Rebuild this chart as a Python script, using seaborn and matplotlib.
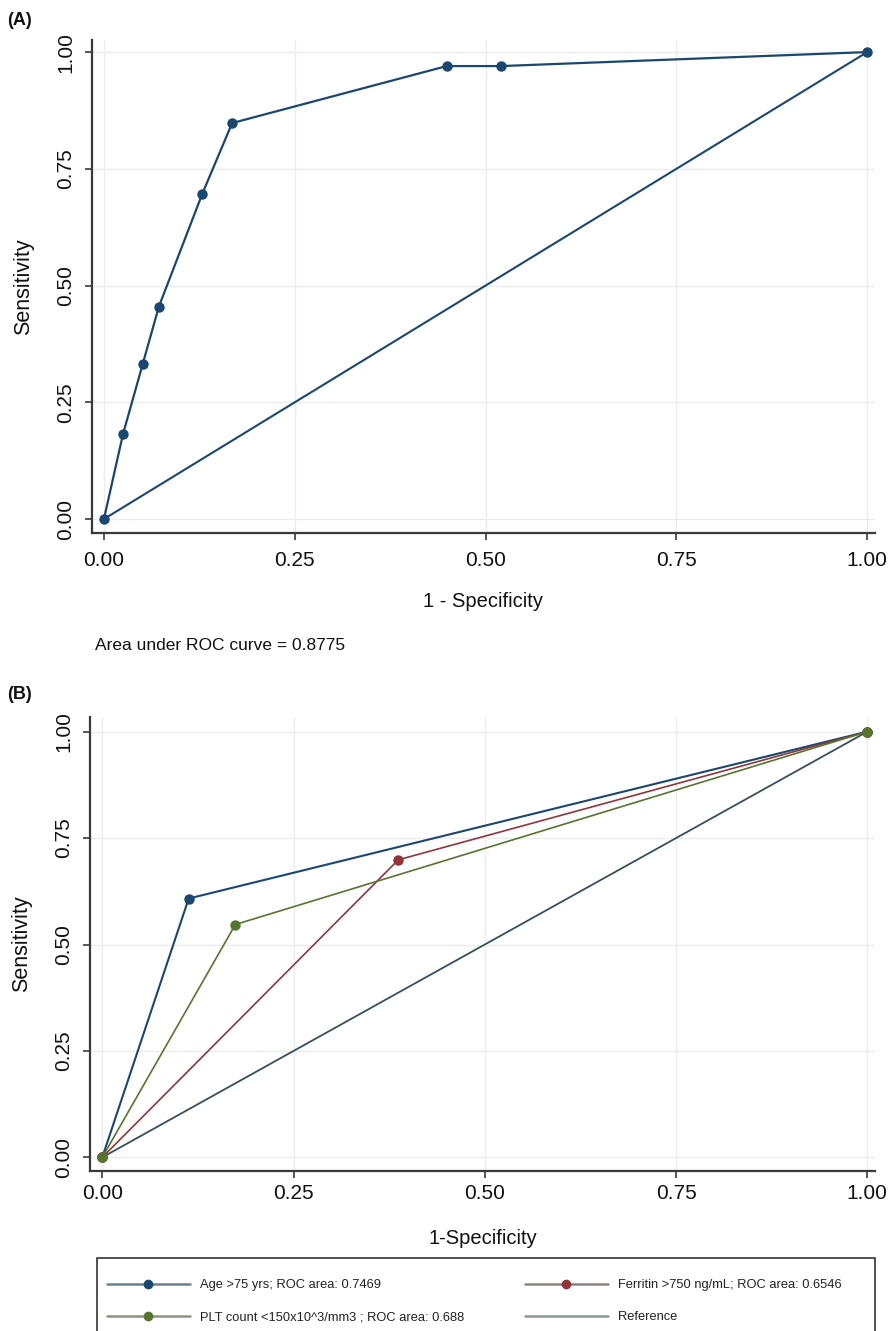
import numpy as np
import pandas as pd
import matplotlib
matplotlib.use("Agg")
import matplotlib.pyplot as plt
import seaborn as sns
from matplotlib.lines import Line2D
from matplotlib.patches import Rectangle

# ---------------- data ----------------
a_fpr = [0.0, 0.025, 0.051, 0.072, 0.129, 0.168, 0.449, 0.520, 1.0]
a_sens = [0.0, 0.182, 0.333, 0.455, 0.697, 0.848, 0.970, 0.970, 1.0]
a_auc_text = "Area under ROC curve = 0.8775"

b_labels = ["Age >75 yrs; ROC area: 0.7469",
            "Ferritin >750 ng/mL; ROC area: 0.6546",
            "PLT count <150x10^3/mm3 ; ROC area: 0.688",
            "Reference"]
b_fpr_age = [0.0, 0.113, 1.0]
b_sens_age = [0.0, 0.608, 1.0]
b_fpr_fer = [0.0, 0.387, 1.0]
b_sens_fer = [0.0, 0.699, 1.0]
b_fpr_plt = [0.0, 0.174, 1.0]
b_sens_plt = [0.0, 0.547, 1.0]
ref_x = [0.0, 1.0]
ref_y = [0.0, 1.0]

ticks = [0.0, 0.25, 0.50, 0.75, 1.0]
tick_labels = ["0.00", "0.25", "0.50", "0.75", "1.00"]

# ---------------- style ----------------
sns.set_theme(style="white")
plt.rcParams["font.family"] = ["Liberation Sans", "DejaVu Sans"]

NAVY = "#1a476f"
MAROON = "#90353b"
GREEN = "#55752f"
REFC = "#34505f"
TXT = "#111111"

fig = plt.figure(figsize=(8.93, 13.31), dpi=100)
axA = fig.add_axes([0.1027, 0.5995, 0.877, 0.3705])
axB = fig.add_axes([0.1008, 0.1202, 0.879, 0.3413])


def style_axes(ax, xlabel, xpad, ypad, xlabelpad, ylabelpad):
    ax.set_xlim(-0.016, 1.01)
    ax.set_xticks(ticks)
    ax.set_xticklabels(tick_labels, fontsize=15)
    ax.set_yticks(ticks)
    ax.set_yticklabels(tick_labels, fontsize=15, rotation=90, va="center")
    ax.grid(True, color="#ececec", linewidth=1.0)
    ax.set_axisbelow(True)
    for s in ["top", "right"]:
        ax.spines[s].set_visible(False)
    for s in ["left", "bottom"]:
        ax.spines[s].set_color("#3a3a3a")
        ax.spines[s].set_linewidth(1.6)
    ax.tick_params(axis="both", which="major", direction="out", length=5,
                   width=1.2, color="#3a3a3a", bottom=True, left=True,
                   labelcolor=TXT)
    ax.tick_params(axis="x", pad=xpad)
    ax.tick_params(axis="y", pad=ypad)
    ax.set_ylabel("Sensitivity", fontsize=15.5, labelpad=ylabelpad, color=TXT)
    ax.set_xlabel(xlabel, fontsize=14.5, labelpad=xlabelpad, color=TXT)


# ---------------- panel A ----------------
sns.lineplot(x=ref_x, y=ref_y, ax=axA, color=NAVY, linewidth=1.5, sort=False,
             estimator=None)
sns.lineplot(x=a_fpr, y=a_sens, ax=axA, color=NAVY, linewidth=1.6, sort=False,
             estimator=None, marker="o", markersize=7.5, markeredgewidth=0)
axA.set_ylim(-0.03, 1.026)
style_axes(axA, "1 - Specificity", xpad=8, ypad=7, xlabelpad=16, ylabelpad=16)
fig.text(0.106, 0.5154, a_auc_text, fontsize=12.5, color=TXT, ha="left",
         va="center")
fig.text(0.008, 0.9845, "(A)", fontsize=13, fontweight="bold", ha="left",
         va="center", color=TXT)

# ---------------- panel B ----------------
sns.lineplot(x=ref_x, y=ref_y, ax=axB, color=REFC, linewidth=1.3, sort=False,
             estimator=None)
sns.lineplot(x=b_fpr_age, y=b_sens_age, ax=axB, color=NAVY, linewidth=1.5,
             sort=False, estimator=None, marker="o", markersize=7.5,
             markeredgewidth=0)
sns.lineplot(x=b_fpr_fer, y=b_sens_fer, ax=axB, color=MAROON, linewidth=1.2,
             sort=False, estimator=None, marker="o", markersize=7.5,
             markeredgewidth=0)
sns.lineplot(x=b_fpr_plt, y=b_sens_plt, ax=axB, color=GREEN, linewidth=1.2,
             sort=False, estimator=None, marker="o", markersize=7.5,
             markeredgewidth=0)
axB.set_ylim(-0.032, 1.035)
style_axes(axB, "1-Specificity", xpad=4, ypad=7, xlabelpad=19, ylabelpad=16)
fig.text(0.008, 0.478, "(B)", fontsize=13, fontweight="bold", ha="left",
         va="center", color=TXT)

# legend box
fig.patches.append(Rectangle((0.1086, -0.01), 0.8712, 0.0648,
                             transform=fig.transFigure, fill=False,
                             edgecolor="#222222", linewidth=1.1))

def h(mcolor, lcolor):
    if mcolor is None:
        return Line2D([], [], color=lcolor, linewidth=1.8)
    return Line2D([], [], color=lcolor, linewidth=1.8, marker="o",
                  markersize=7, markerfacecolor=mcolor, markeredgewidth=0)

leg_kw = dict(loc="upper left", fontsize=9.3, frameon=False, handlelength=6.4,
              numpoints=1, borderaxespad=0.0, borderpad=0.0,
              labelspacing=1.55, handletextpad=0.8)
leg1 = fig.legend([h(NAVY, "#6e7f8c"), h(GREEN, "#8c9284")],
                  [b_labels[0], b_labels[2]],
                  bbox_to_anchor=(0.1198, 0.0390), **leg_kw)
leg2 = fig.legend([h(MAROON, "#8c8383"), h(None, "#8f9698")],
                  [b_labels[1], b_labels[3]],
                  bbox_to_anchor=(0.5879, 0.0390), **leg_kw)
for lg in (leg1, leg2):
    for t in lg.get_texts():
        t.set_color("#222222")

fig.savefig("out.png", dpi=100, facecolor="white")
